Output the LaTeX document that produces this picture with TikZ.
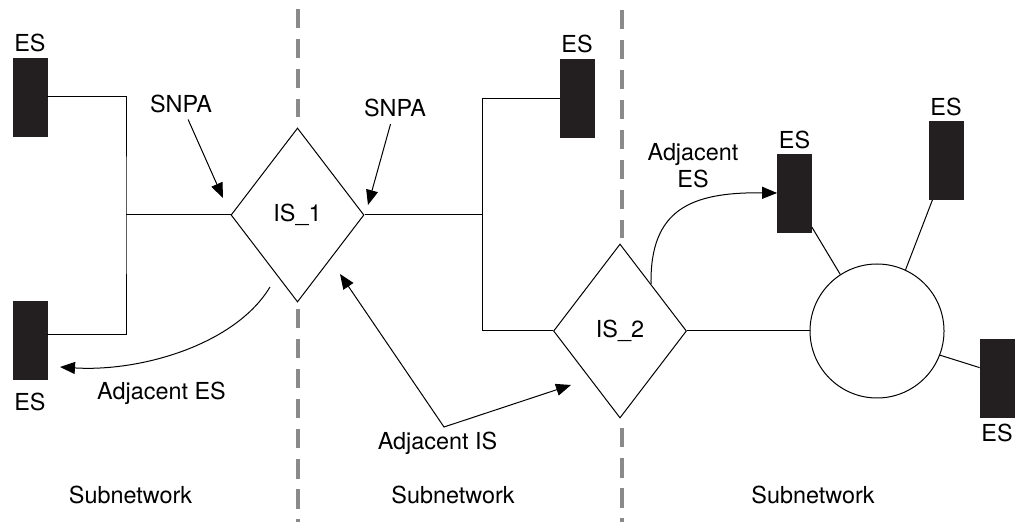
\documentclass[tikz,border=0pt]{standalone}
\usepackage{fontspec}
\setmainfont{TeX Gyre Heros}
\usetikzlibrary{arrows.meta,shapes.geometric,positioning}
\definecolor{esblack}{HTML}{231F20}
\definecolor{linegray}{HTML}{8A8A8A}

\begin{document}
\begin{tikzpicture}[x=0.5pt,y=-0.5pt,
  every node/.style={font=\fontsize{11.7}{13.5}\selectfont},
  every text node part/.style={align=center},
  wire/.style={line width=0.5pt},
  host/.style={draw=esblack,fill=esblack,minimum width=17pt,minimum height=39pt,inner sep=0pt},
  tag/.style={inner sep=0pt},
  router/.style={draw,diamond,line width=0.5pt,minimum width=66.5pt,minimum height=87pt,inner sep=0pt},
  hub/.style={draw,circle,line width=0.5pt,minimum size=67pt,inner sep=0pt},
  divider/.style={draw=linegray,line width=1.6pt,dash pattern=on 9.75pt off 5.25pt},
  pointer/.style={line width=0.5pt,-{Triangle[length=7.5pt,width=6pt]}},
  twoway/.style={line width=0.5pt,{Triangle[length=7.5pt,width=6pt]}-{Triangle[length=7.5pt,width=6pt]}}]

\useasboundingbox (0,0) rectangle (1020,522);

\draw[divider](298,9)--(298,117);
\draw[divider](298,309)--(298,522);
\draw[divider](622,10)--(622,238);
\draw[divider](622,428)--(622,522);

\node[host] (es1) at (30,97) {};
\node[host] (es2) at (30,340.5) {};
\node[host] (es3) at (577,98.5) {};
\node[host] (es4) at (794.5,193) {};
\node[host] (es5) at (946,160.5) {};
\node[host] (es6) at (997,378.5) {};

\node[tag,above=2.5pt of es1] (es1lab) {ES};
\node[tag,below=6.5pt of es2] (es2lab) {ES};
\node[tag,above=3pt of es3] (es3lab) {ES};
\node[tag,above=2pt of es4] (es4lab) {ES};
\node[tag,above=2.5pt of es5] (es5lab) {ES};
\node[tag,below=3pt of es6] (es6lab) {ES};

\node[router] (is1) at (297.5,215) {IS\_1};
\node[router] (is2) at (620,331) {IS\_2};
\node[hub] (ring) at (877,331) {};

\coordinate (bus1) at (126,215);
\coordinate (bus2) at (482,215);

\draw[wire](es1.east)-|(bus1)|-([yshift=3pt]es2.east);
\draw[wire](bus1)--(is1.west);
\draw[wire](is1.east)--(bus2);
\draw[wire](es3.west)-|(bus2)|-(is2.west);
\draw[wire](is2.east)--(ring.west);

\draw[wire](ring.123)--(es4.-63);
\draw[wire](ring.65)--(es5.251);
\draw[wire](ring.-21)--(es6.148);

\node (snpaL) at (181,103.5) {SNPA};
\node (snpaR) at (395,108) {SNPA};
\node (adjesL) at (161.5,393) {Adjacent ES};
\node (adjis) at (437.5,443.5) {Adjacent IS};
\node (adjesR) at (693,166) {Adjacent\\ES};

\node (subL) at (130.5,494.5) {Subnetwork};
\node (subM) at (453,494.5) {Subnetwork};
\node (subR) at (813,494.5) {Subnetwork};

\coordinate (snpaLtip) at (223,198);
\coordinate (snpaRtip) at (368,205);
\coordinate (aesLfrom) at (270,287);
\coordinate (aesLto) at (60,367);
\coordinate (aesRfrom) at (651,284);
\coordinate (aisA) at (340,274);
\coordinate (aisV) at (444,427);
\coordinate (aisB) at (571,385);

\draw[pointer](snpaL)--(snpaLtip);
\draw[pointer](snpaR)--(snpaRtip);
\draw[pointer](aesLfrom)..controls(235,345)and(140,372)..(aesLto);
\draw[pointer](aesRfrom)..controls(650,210)and(690,192)..(es4.west);
\draw[twoway](aisA)--(aisV)--(aisB);

\end{tikzpicture}
\end{document}
